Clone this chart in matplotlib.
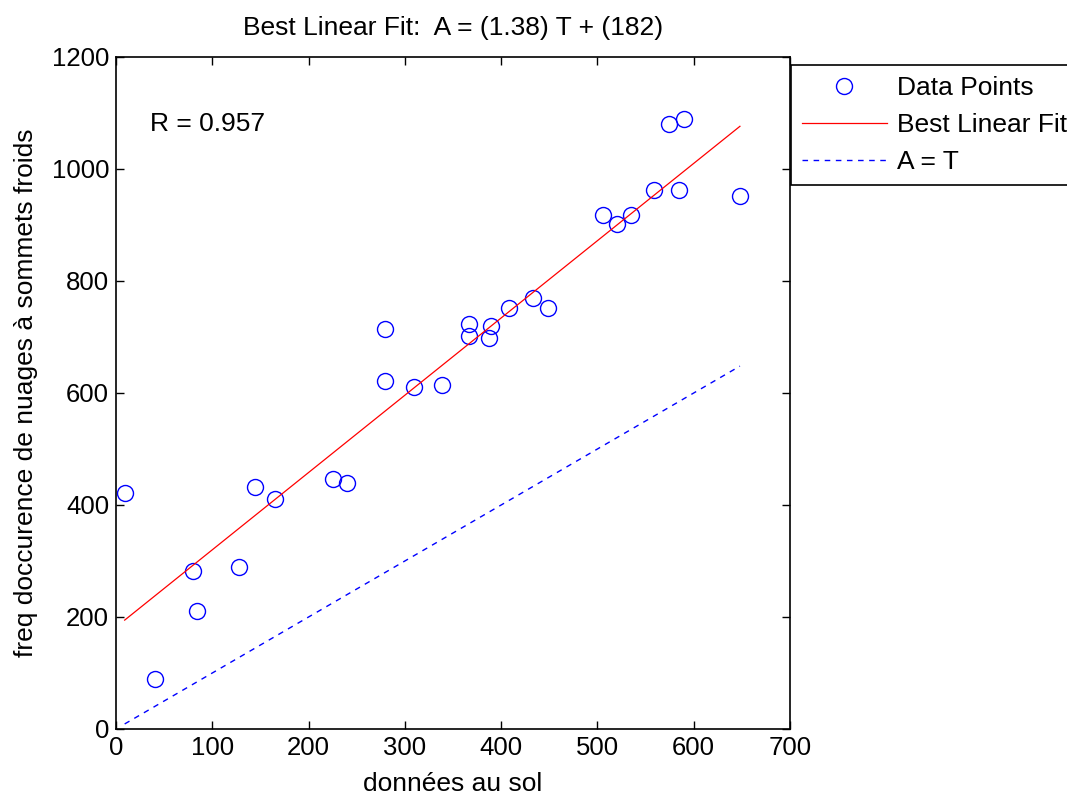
import numpy as np
import matplotlib
matplotlib.use('Agg')
import matplotlib.pyplot as plt

plt.rcParams['font.family'] = ['Liberation Sans', 'DejaVu Sans']

# ground data (T) and cold-top cloud occurrence (A)
sol = [9, 40, 80, 84, 128, 144, 165, 225, 240,
       279, 279, 310, 339, 367, 367, 389, 387, 408, 433, 449,
       506, 520, 535, 559, 585, 574, 590, 648]
freq = [421, 90, 282, 211, 290, 432, 411, 446, 439,
        714, 621, 611, 614, 723, 702, 719, 698, 752, 769, 752,
        918, 901, 918, 962, 962, 1080, 1090, 951]

slope = 1.38
intercept = 182
r_value = 0.957

t_sorted = np.sort(np.array(sol, dtype=float))
fit = slope * t_sorted + intercept

fig = plt.figure(figsize=(10.67, 7.97), dpi=100)
fig.patch.set_facecolor('white')
ax = fig.add_axes([116 / 1067, 1 - 729 / 797, 674 / 1067, 672 / 797])

ax.plot(sol, freq, 'o', mfc='none', mec='#0000ff', ms=11.5, mew=1.0,
        label='Data Points')
ax.plot(t_sorted, fit, '-', color='#ff0000', lw=0.9, label='Best Linear Fit')
ax.plot(t_sorted, t_sorted, '--', color='#0000ff', lw=1.0, dashes=(4, 4),
        label='A = T')

ax.set_xlim(0, 700)
ax.set_ylim(0, 1200)
ax.set_xticks(range(0, 701, 100))
ax.set_yticks(range(0, 1201, 200))
ax.tick_params(direction='in', top=True, right=True, length=6, width=1.0,
               labelsize=18.5, pad=5)
for sp in ax.spines.values():
    sp.set_linewidth(1.2)

ax.text(35, 1080, 'R = %.3f' % r_value, fontsize=19, va='center', ha='left')

ax.set_title('Best Linear Fit:  A = (%.2f) T + (%d)' % (slope, intercept),
             fontsize=19, pad=16)
ax.set_xlabel('données au sol', fontsize=19, labelpad=9)
ax.set_ylabel('freq doccurence de nuages à sommets froids', fontsize=19,
              labelpad=10)

leg = ax.legend(loc='upper left', bbox_to_anchor=(791 / 1067, 1 - 65 / 797),
                bbox_transform=fig.transFigure, borderaxespad=0,
                fontsize=19, numpoints=1, handlelength=3.2,
                handletextpad=0.38, labelspacing=0.49, borderpad=0.42,
                fancybox=False, framealpha=1, edgecolor='black')
leg.get_frame().set_linewidth(1.2)

fig.savefig('out.png', dpi=100)
